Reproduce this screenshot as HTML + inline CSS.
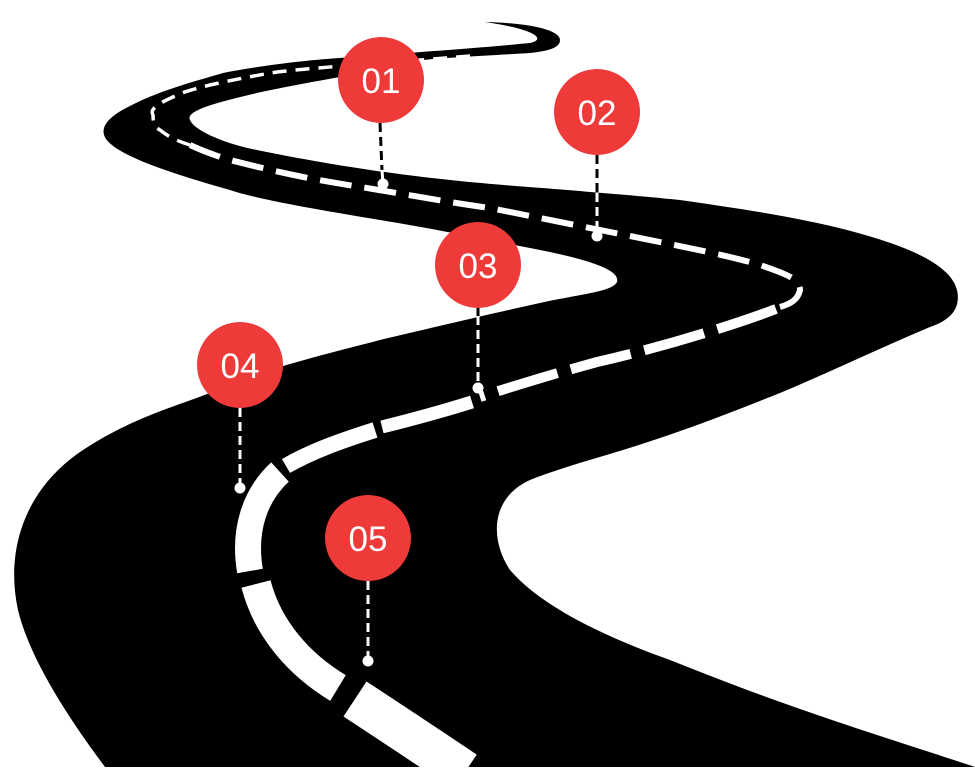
<!DOCTYPE html>
<html><head><meta charset="utf-8"><style>
html,body{margin:0;padding:0;background:#fff;}
svg{display:block;}
text{font-family:"Liberation Sans",sans-serif;font-size:35px;fill:#fff;}
</style></head><body>
<svg width="975" height="768" viewBox="0 0 975 768" xmlns="http://www.w3.org/2000/svg">
<path fill="#000" d="
M 105,767
C 70,720 30,660 18,610
C 5,550 25,490 80,452
C 130,418 180,405 207,394
C 240,383 260,374 280,367
C 320,355 350,348 380,340
C 440,326 490,314 540,303
C 580,294 612,292 617,282
C 620,272 600,262 540,250
C 500,242 440,230 380,220
C 320,210 260,200 230,190
C 180,176 130,160 112,145
C 95,132 105,118 130,106
C 160,90 200,80 223,73
C 270,64 310,60 340,58
C 420,52 480,48 530,43
C 545,40 540,30 485,22
C 530,23 560,30 560,40
C 560,48 548,51 530,53
C 480,56 440,58 423,60
C 380,66 360,72 340,77
C 300,84 270,90 257,93
C 220,102 185,110 190,120
C 195,132 230,145 257,150
C 320,163 380,172 423,177
C 500,186 550,188 590,192
C 640,196 660,198 680,200
C 750,210 800,218 847,230
C 900,244 950,262 957,290
C 962,312 945,322 930,327
C 880,348 830,372 780,393
C 720,417 670,436 613,453
C 580,463 555,470 530,480
C 490,498 490,540 510,570
C 540,605 600,635 670,660
C 720,680 760,695 803,710
C 860,730 930,752 975,767
Z"/>
<g fill="none" stroke="#fff" stroke-linecap="butt">
<path stroke-width="3.5" stroke-dasharray="14 9" d="M 470,56 C 400,62 320,67 277,72 C 240,78 215,84 210,85 C 190,90 180,93 173,97 C 155,105 150,110 153,115 C 153,124 155,127 160,130 C 170,138 180,142 190,145"/>
<path stroke-width="6" stroke-dasharray="32 13" d="M 190,145 C 205,152 220,157 230,160 C 300,178 330,182 373,189 C 420,197 460,204 490,208 C 540,218 590,228 630,236 C 690,248 730,256 760,265 C 790,275 800,280 800,290 C 798,300 790,304 780,307"/>
<path stroke-width="10" stroke-dasharray="62 14" d="M 776,309 C 720,330 650,350 597,362 C 560,372 520,384 480,397"/>
<path stroke-width="13" d="M 472,402 C 440,412 410,420 382,427"/>
<path stroke-width="16" d="M 375,430 C 340,441 310,452 286,466"/>
<path stroke-width="26" d="M 280,472 C 255,495 243,530 250,571"/>
<path stroke-width="30" d="M 256,584 C 268,630 300,665 338,688"/>
<path stroke-width="42" d="M 355,699 C 390,722 425,745 465,772"/>
</g>
<g stroke-width="3" stroke-dasharray="9 5" fill="none">
<line x1="380" y1="123" x2="382" y2="170" stroke="#000"/>
<line x1="382" y1="170" x2="383" y2="184" stroke="#fff"/>
<line x1="597" y1="155" x2="597" y2="193" stroke="#000"/>
<line x1="597" y1="193" x2="597" y2="236" stroke="#fff"/>
<line x1="478" y1="308" x2="478" y2="316" stroke="#000"/>
<line x1="478" y1="316" x2="478" y2="388" stroke="#fff"/>
<line x1="240" y1="408" x2="240" y2="488" stroke="#fff"/>
<line x1="368" y1="581" x2="368" y2="661" stroke="#fff"/>
</g>
<g fill="#fff">
<circle cx="383" cy="184" r="5.5"/>
<circle cx="597" cy="236" r="5.5"/>
<circle cx="478" cy="388" r="5.5"/>
<circle cx="240" cy="488" r="5.5"/>
<circle cx="368" cy="661" r="5.5"/>
</g>
<g fill="#EE3B3A">
<circle cx="381" cy="80" r="43"/>
<circle cx="597" cy="112" r="43"/>
<circle cx="478" cy="265" r="43"/>
<circle cx="240" cy="365" r="43"/>
<circle cx="368" cy="538" r="43"/>
</g>
<g text-anchor="middle">
<text x="381" y="93">01</text>
<text x="597" y="125">02</text>
<text x="478" y="278">03</text>
<text x="240" y="378">04</text>
<text x="368" y="551">05</text>
</g>
</svg>
</body></html>
